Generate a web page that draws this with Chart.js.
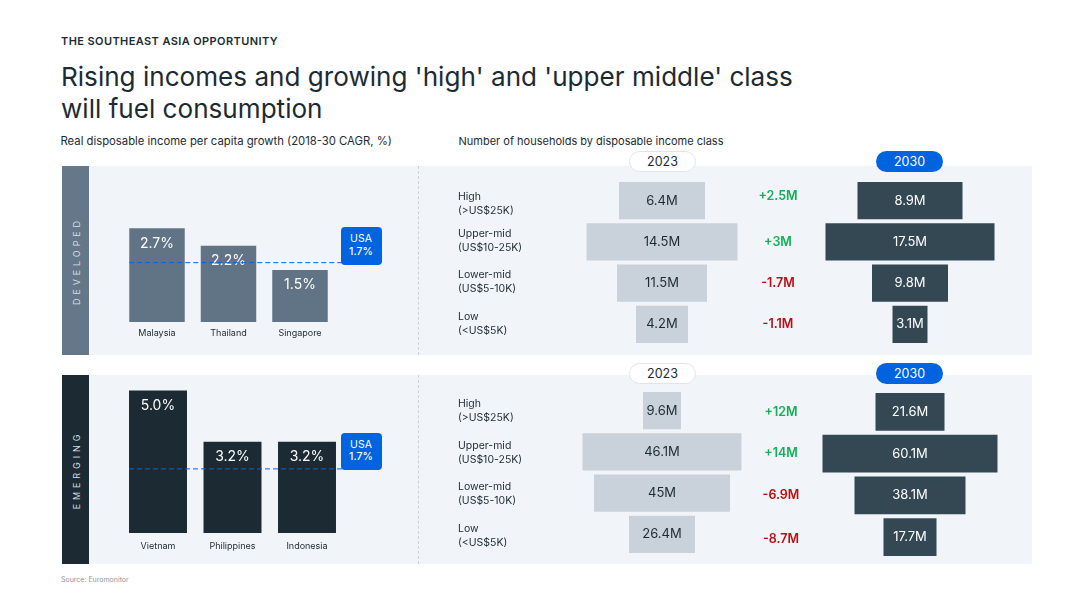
<!DOCTYPE html>
<html>
<head>
<meta charset="utf-8">
<script src="https://cdn.jsdelivr.net/npm/chart.js@4/dist/chart.umd.js"></script>
<style>
    html, body { margin: 0; padding: 0; background: #fff; }
    body { width: 1080px; height: 608px; position: relative; overflow: hidden; font-family: Inter, sans-serif; color: #1c2b33; }
    .abs, canvas { position: absolute; }
    .kicker { left: 61px; top: 35px; font-size: 11px; letter-spacing: 0.4px; font-weight: 600; line-height: 13px; white-space: nowrap; }
    h1 { position: absolute; left: 61px; top: 61px; margin: 0; font-size: 26.1px; font-weight: 400; line-height: 32px; white-space: nowrap; }
    .sub { font-size: 11.3px; line-height: 14px; top: 134px; white-space: nowrap; }
    .panel { left: 62px; width: 970px; height: 189px; background: #f1f4f8; }
    .band { left: 62px; width: 27px; height: 189px; }
    .band span { position: absolute; left: 13.5px; top: 50%; transform: translate(-50%, -50%) rotate(-90deg); color: #d8dfe5; font-size: 9px; letter-spacing: 3.9px; white-space: nowrap; }
    .divider { left: 418px; height: 189px; border-left: 1px dashed #cbd2d9; }
    .pill { width: 67px; height: 20.5px; border-radius: 11px; box-sizing: border-box; text-align: center; font-size: 12.5px; z-index: 3; }
    .pill.y2023 { left: 629px; background: #fff; border: 1px solid #e1e5ea; line-height: 20px; }
    .pill.y2030 { left: 876px; background: #0064e0; color: #fff; line-height: 21px; }
    .usa { left: 340.5px; width: 41px; height: 37.5px; border-radius: 4px; background: #0064e0; color: #fff; text-align: center; font-size: 10.5px; line-height: 12.5px; padding-top: 6px; box-sizing: border-box; z-index: 3; }
    .usa b { font-weight: 500; }
    .source { left: 61px; top: 575px; font-size: 7px; line-height: 9px; color: #8f979e; }
</style>
</head>
<body>
<div class="abs kicker">THE SOUTHEAST ASIA OPPORTUNITY</div>
<h1>Rising incomes and growing 'high' and 'upper middle' class<br>will fuel consumption</h1>
<div class="abs sub" style="left:60.5px">Real disposable income per capita growth (2018-30 CAGR, %)</div>
<div class="abs sub" style="left:458.5px;font-size:11px">Number of households by disposable income class</div>

<div class="abs panel" style="top:166px"></div>
<div class="abs panel" style="top:375px"></div>
<div class="abs band" style="top:166px;background:#65788a"><span>DEVELOPED</span></div>
<div class="abs band" style="top:375px;background:#1c2b33"><span>EMERGING</span></div>
<div class="abs divider" style="top:166px"></div>
<div class="abs divider" style="top:375px"></div>

<div class="abs pill y2023" style="top:151px">2023</div>
<div class="abs pill y2030" style="top:151px">2030</div>
<div class="abs pill y2023" style="top:363px">2023</div>
<div class="abs pill y2030" style="top:363px">2030</div>

<div class="abs usa" style="top:227px">USA<br><b>1.7%</b></div>
<div class="abs usa" style="top:432.5px">USA<br><b>1.7%</b></div>

<canvas id="growthDeveloped" style="left:100px;top:170px"></canvas>
<canvas id="growthEmerging" style="left:100px;top:380px"></canvas>
<canvas id="devFunnel2023" style="left:458px;top:180px"></canvas>
<canvas id="devFunnel2030" style="left:750px;top:180px"></canvas>
<canvas id="emFunnel2023" style="left:458px;top:390px"></canvas>
<canvas id="emFunnel2030" style="left:750px;top:391px"></canvas>

<div class="abs source">Source: Euromonitor</div>

<script>
const developedCountries = ['Malaysia', 'Thailand', 'Singapore'];
const developedGrowth = [2.7, 2.2, 1.5];
const emergingCountries = ['Vietnam', 'Philippines', 'Indonesia'];
const emergingGrowth = [5.0, 3.2, 3.2];
// where the dashed USA line sits on each growth axis (the emerging one is drawn above its 1.7 label in the source)
const developedUsaLine = 1.71;
const emergingUsaLine = 2.25;

const incomeClasses = [
    ['High', '(>US$25K)'],
    ['Upper-mid', '(US$10-25K)'],
    ['Lower-mid', '(US$5-10K)'],
    ['Low', '(<US$5K)']
];

// households printed on the bars, millions
const devHouseholds2023 = [6.4, 14.5, 11.5, 4.2];
const devHouseholds2030 = [8.9, 17.5, 9.8, 3.1];
const devChange = [2.5, 3, -1.7, -1.1];
const emHouseholds2023 = [9.6, 46.1, 45, 26.4];
const emHouseholds2030 = [21.6, 60.1, 38.1, 17.7];
const emChange = [12, 14, -6.9, -8.7];

// bar lengths: the source's bars are not to scale with their printed values
const devLength2023 = [86, 151, 90, 52];
const devLength2030 = [105, 169, 76, 35];
const emLength2023 = [38, 159, 136, 66];
const emLength2030 = [69, 175, 111, 53];

const INK = '#1c2b33';
const GREEN = '#12b056';
const RED = '#b80f12';

// writes one text per bar: near the top of a column, or in the middle of a horizontal bar
const barText = {
    id: 'barText',
    afterDatasetsDraw(chart, args, opts) {
        const ctx = chart.ctx;
        const bars = chart.getDatasetMeta(0).data;
        ctx.save();
        ctx.font = opts.font;
        ctx.fillStyle = opts.color;
        ctx.textAlign = 'center';
        ctx.textBaseline = 'middle';
        bars.forEach((bar, i) => {
            if (opts.top) {
                ctx.fillText(opts.texts[i], bar.x, bar.y + opts.top);
            } else {
                ctx.fillText(opts.texts[i], (bar.x + bar.base) / 2, bar.y);
            }
        });
        ctx.restore();
    }
};

const changeColumn = {
    id: 'changeColumn',
    afterDraw(chart, args, opts) {
        if (!opts.values) return;
        const ctx = chart.ctx;
        const x = chart.scales.x.getPixelForValue(opts.at);
        ctx.save();
        ctx.font = '600 12.5px Inter';
        ctx.textAlign = 'center';
        ctx.textBaseline = 'middle';
        opts.values.forEach((v, i) => {
            ctx.fillStyle = v > 0 ? GREEN : RED;
            const text = (v > 0 ? '+' : '-') + Math.abs(v) + 'M';
            ctx.fillText(text, x, chart.scales.y.getPixelForValue(i) + opts.nudge[i]);
        });
        ctx.restore();
    }
};

// the income class names stand left of the 2023 bars, two lines each
const classLabels = {
    id: 'classLabels',
    afterDraw(chart, args, opts) {
        if (!opts.nudge) return;
        const ctx = chart.ctx;
        ctx.save();
        ctx.font = '400 10.5px Inter';
        ctx.fillStyle = INK;
        ctx.textAlign = 'left';
        ctx.textBaseline = 'middle';
        chart.data.labels.forEach((lines, i) => {
            const y = chart.scales.y.getPixelForValue(i) + opts.nudge[i];
            ctx.fillText(lines[0], 0, y - 7);
            ctx.fillText(lines[1], 0, y + 7);
        });
        ctx.restore();
    }
};

const usaLine = {
    id: 'usaLine',
    afterDatasetsDraw(chart, args, opts) {
        const first = chart.getDatasetMeta(0).data[0];
        const y = chart.scales.y.getPixelForValue(opts.value);
        const ctx = chart.ctx;
        ctx.save();
        ctx.strokeStyle = '#0064e0';
        ctx.lineWidth = 1;
        ctx.setLineDash([5, 3]);
        ctx.beginPath();
        ctx.moveTo(first.x - first.width / 2, y);
        ctx.lineTo(chart.width, y);
        ctx.stroke();
        ctx.restore();
    }
};

function growthChart(id, countries, growth, cfg) {
    const el = document.getElementById(id);
    el.width = 245;
    el.height = cfg.height;
    return new Chart(el, {
        type: 'bar',
        data: {
            labels: countries,
            datasets: [{ data: growth, backgroundColor: cfg.color, barPercentage: 1, categoryPercentage: cfg.barShare }]
        },
        options: {
            responsive: false,
            animation: false,
            layout: { padding: { left: cfg.left, right: cfg.right, top: 0, bottom: 0 } },
            scales: {
                x: {
                    grid: { display: false, drawTicks: false },
                    border: { display: false },
                    ticks: { color: INK, font: { family: 'Inter', size: 9 }, padding: cfg.tickPad, maxRotation: 0, autoSkip: false },
                    afterFit: s => { s.height = 23; }
                },
                y: { display: false, min: 0, max: cfg.max }
            },
            plugins: {
                legend: { display: false },
                tooltip: { enabled: false },
                barText: { texts: growth.map(v => v.toFixed(1) + '%'), color: '#fff', font: '400 14px Inter', top: 15 },
                usaLine: { value: cfg.usa }
            }
        },
        plugins: [barText, usaLine]
    });
}

function funnelChart(id, lengths, printed, cfg) {
    const el = document.getElementById(id);
    const half = cfg.half;
    el.width = cfg.padLeft + half * 2;
    el.height = cfg.height;
    return new Chart(el, {
        type: 'bar',
        data: {
            labels: incomeClasses,
            datasets: [{
                data: lengths.map(w => [-w / 2, w / 2]),
                backgroundColor: cfg.color,
                barPercentage: 1,
                categoryPercentage: cfg.barShare
            }]
        },
        options: {
            indexAxis: 'y',
            responsive: false,
            animation: false,
            layout: { padding: { left: cfg.padLeft, right: 0, top: 0, bottom: 0 } },
            scales: {
                x: { display: false, min: -half, max: half },
                y: { display: false }
            },
            plugins: {
                legend: { display: false },
                tooltip: { enabled: false },
                barText: { texts: printed.map(v => v + 'M'), color: cfg.textColor, font: '400 13px Inter' },
                changeColumn: cfg.change || {},
                classLabels: cfg.classes || {}
            }
        },
        plugins: [barText, changeColumn, classLabels]
    });
}

growthChart('growthDeveloped', developedCountries, developedGrowth, {
    height: 175, color: '#617485', barShare: 0.776, left: 21.25, right: 9.25, max: 4.38, usa: developedUsaLine, tickPad: 6
});
growthChart('growthEmerging', emergingCountries, emergingGrowth, {
    height: 176, color: INK, barShare: 0.778, left: 20.75, right: 0.75, max: 5.37, usa: emergingUsaLine, tickPad: 8
});

const light = { color: '#c9d2da', textColor: INK, padLeft: 122, half: 82, height: 165, barShare: 0.897 };
const dark = { color: '#344854', textColor: '#fff', padLeft: 70, half: 90, barShare: 0.897 };

funnelChart('devFunnel2023', devLength2023, devHouseholds2023, {
    ...light, classes: { nudge: [3.5, -1, -1, -1] }
});
funnelChart('devFunnel2030', devLength2030, devHouseholds2030, {
    ...dark, height: 165, change: { values: devChange, at: -132, nudge: [-4, 0, 0, 0] }
});
funnelChart('emFunnel2023', emLength2023, emHouseholds2023, {
    ...light, classes: { nudge: [0, 1, 1, 1] }
});
funnelChart('emFunnel2030', emLength2030, emHouseholds2030, {
    ...dark, height: 167, barShare: 0.9, change: { values: emChange, at: -129, nudge: [0, 0, 0, 2] }
});
</script>
</body>
</html>
